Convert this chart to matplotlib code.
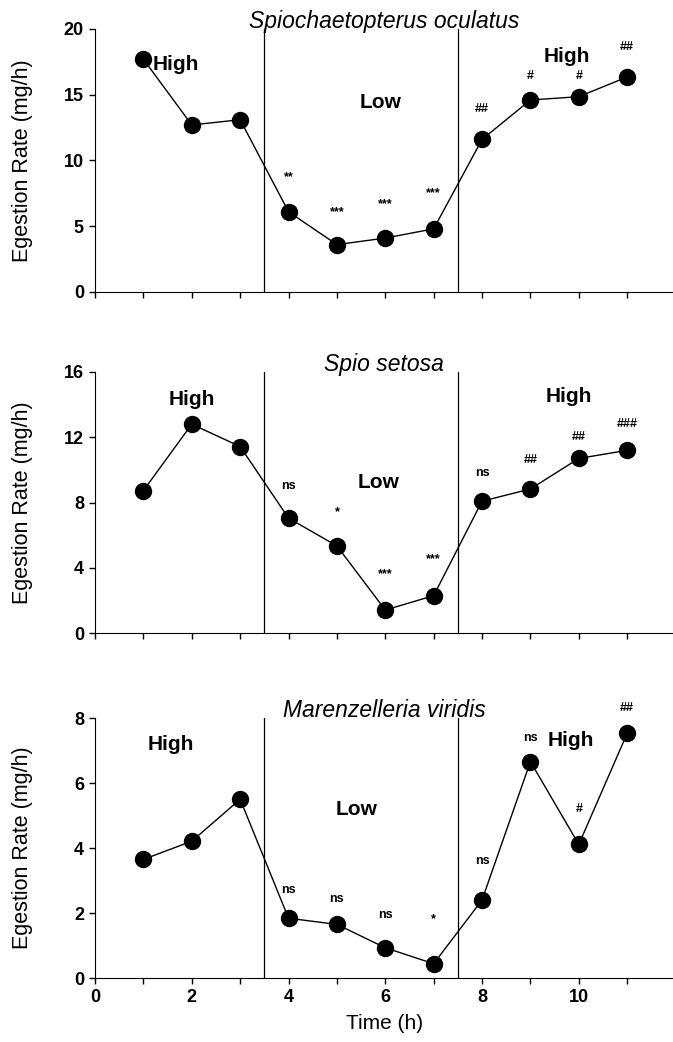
import numpy as np
import matplotlib.pyplot as plt
from matplotlib.ticker import MultipleLocator

# data
hours = np.arange(1, 12)
species = ["Spiochaetopterus oculatus", "Spio setosa", "Marenzelleria viridis"]
rate_spio_oc = [17.7, 12.7, 13.1, 6.1, 3.6, 4.1, 4.8, 11.6, 14.6, 14.85, 16.35]
rate_spio_se = [8.73, 12.8, 11.43, 7.04, 5.34, 1.41, 2.29, 8.08, 8.83, 10.7, 11.2]
rate_maren = [3.65, 4.21, 5.5, 1.84, 1.65, 0.93, 0.44, 2.4, 6.66, 4.11, 7.53]

sig_spio_oc = ["", "", "", "**", "***", "***", "***", "##", "#", "#", "##"]
sig_spio_se = ["", "", "", "ns", "*", "***", "***", "ns", "##", "##", "###"]
sig_maren = ["", "", "", "ns", "ns", "ns", "*", "ns", "ns", "#", "##"]
sig_y_spio_oc = [0, 0, 0, 8.7, 6.1, 6.7, 7.5, 13.9, 16.4, 16.4, 18.6]
sig_y_spio_se = [0, 0, 0, 9.0, 7.4, 3.6, 4.5, 9.8, 10.6, 12.0, 12.8]
sig_y_maren = [0, 0, 0, 2.7, 2.43, 1.94, 1.8, 3.6, 7.4, 5.2, 8.3]

ymax = [20, 16, 8]
ystep = [5, 4, 2]
# (x, y) of the High / Low / High labels in data units
label_pos = [
    [(1.66, 17.3), (5.9, 14.4), (9.75, 17.9)],
    [(2.0, 14.3), (5.87, 9.2), (9.8, 14.5)],
    [(1.56, 7.2), (5.4, 5.2), (9.83, 7.3)],
]
phase_names = ["High", "Low", "High"]
switch_times = [3.5, 7.5]

rates = [rate_spio_oc, rate_spio_se, rate_maren]
sigs = [sig_spio_oc, sig_spio_se, sig_maren]
sig_ys = [sig_y_spio_oc, sig_y_spio_se, sig_y_maren]

sans = ['Liberation Sans', 'DejaVu Sans']
plt.rcParams['font.family'] = ['Liberation Sans Narrow', 'Liberation Sans', 'DejaVu Sans']

fig = plt.figure(figsize=(6.73, 10.42), dpi=100)
boxes = [[0.1412, 0.7198, 0.859, 0.2524],
         [0.1412, 0.3925, 0.859, 0.2505],
         [0.1412, 0.0614, 0.859, 0.2495]]

for i in range(3):
    ax = fig.add_axes(boxes[i])
    ax.plot(hours, rates[i], color='k', lw=1.0, marker='o', ms=11.5,
            markerfacecolor='k', zorder=3)
    for t in switch_times:
        ax.axvline(t, color='k', lw=0.9)
    for j in range(len(hours)):
        if sigs[i][j]:
            ax.text(hours[j], sig_ys[i][j], sigs[i][j], ha='center', va='center',
                    fontsize=9, fontweight='bold')
    for (lx, ly), name in zip(label_pos[i], phase_names):
        ax.text(lx, ly, name, ha='center', va='center', fontsize=15,
                fontweight='bold', family=sans)
    # title sits right on the top of the axes, as in the original
    ax.text(0.5, 1.005, species[i], transform=ax.transAxes, ha='center',
            va='baseline', fontstyle='italic', fontsize=16.5, family=sans)
    ax.set_xlim(0, 11.95)
    ax.set_ylim(0, ymax[i])
    ax.yaxis.set_major_locator(MultipleLocator(ystep[i]))
    ax.xaxis.set_major_locator(MultipleLocator(2))
    ax.xaxis.set_minor_locator(MultipleLocator(1))
    ax.spines['top'].set_visible(False)
    ax.spines['right'].set_visible(False)
    ax.tick_params(axis='both', which='both', direction='out', length=4.5, width=1)
    ax.tick_params(labelsize=13)
    for lab in ax.get_yticklabels() + ax.get_xticklabels():
        lab.set_fontweight('bold')
    ax.set_ylabel("Egestion Rate (mg/h)", fontsize=15.5, family=sans)
    ax.yaxis.set_label_coords(-0.107, 0.5)
    if i < 2:
        ax.tick_params(axis='x', labelbottom=False)
    else:
        ax.set_xlabel("Time (h)", fontsize=15, labelpad=6, family=sans)

fig.savefig("out.png", dpi=100)
